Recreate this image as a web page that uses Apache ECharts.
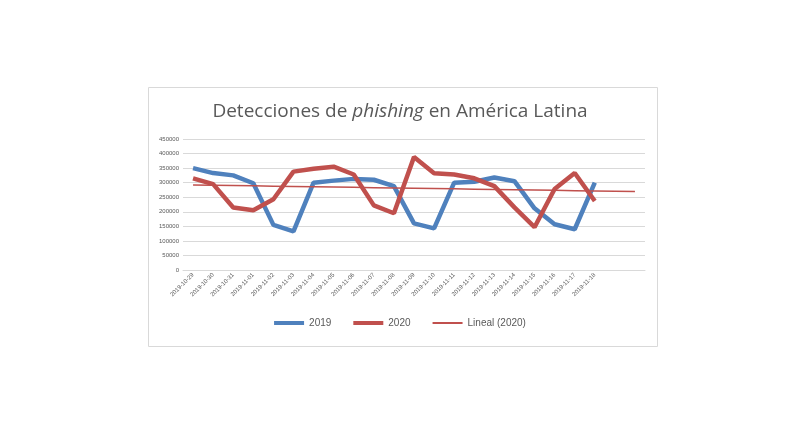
<!DOCTYPE html><html><head><meta charset="utf-8">
<script src="https://cdn.jsdelivr.net/npm/echarts@6/dist/echarts.min.js"></script>
<style>body{margin:0;background:#fff}#c{width:800px;height:445px}</style></head><body><div id="c"></div>
<script>
const categories=['2019-10-29','2019-10-30','2019-10-31','2019-11-01','2019-11-02','2019-11-03','2019-11-04','2019-11-05','2019-11-06','2019-11-07','2019-11-08','2019-11-09','2019-11-10','2019-11-11','2019-11-12','2019-11-13','2019-11-14','2019-11-15','2019-11-16','2019-11-17','2019-11-18','',''];
const s2019=[350000,333000,325000,298000,155000,133000,300000,307000,313000,310000,288000,160000,143000,300000,303000,318000,305000,212000,157000,140000,300000];
const s2020=[315000,295000,215000,205000,243000,338000,348000,355000,328000,222000,195000,388000,332000,328000,315000,288000,215000,147000,278000,333000,237000];
const n=s2020.length;let sx=0,sy=0,sxy=0,sxx=0;
s2020.forEach((v,i)=>{sx+=i;sy+=v;sxy+=i*v;sxx+=i*i;});
const b=(n*sxy-sx*sy)/(n*sxx-sx*sx),a=(sy-b*sx)/n;
const trend=categories.map((c,i)=>Math.round(a+b*i));
const ch=echarts.init(document.getElementById('c'));
ch.setOption({
 graphic:[{type:'rect',shape:{x:148.5,y:87.5,width:509,height:259},style:{fill:'none',stroke:'#d9d9d9',lineWidth:1}}],
 title:{left:'center',top:97,text:'{a|Detecciones de }{b|phishing}{a| en América Latina}',
  textStyle:{rich:{a:{fontSize:19,color:'#595959',fontWeight:'normal',fontFamily:'Open Sans'},b:{fontSize:19,color:'#595959',fontWeight:'normal',fontStyle:'italic',fontFamily:'Open Sans'}}}},
 legend:{bottom:112,itemGap:22,textStyle:{fontSize:10,color:'#595959'},
  data:[{name:'2019',icon:'path://M0,0H30V4H0Z'},{name:'2020',icon:'path://M0,0H30V4H0Z'},{name:'Lineal (2020)',icon:'path://M0,1H30V3H0Z'}],itemWidth:30,itemHeight:4},
 grid:{left:183,right:155,top:139,bottom:175,containLabel:false},
 xAxis:{type:'category',data:categories,axisLine:{lineStyle:{color:'#d9d9d9'}},axisTick:{show:false},
  axisLabel:{rotate:45,fontSize:6,color:'#595959',interval:0,margin:4}},
 yAxis:{type:'value',min:0,max:450000,interval:50000,axisLabel:{fontSize:6,color:'#595959',margin:4,formatter:v=>String(v)},
  splitLine:{lineStyle:{color:'#d9d9d9'}}},
 series:[
  {name:'2019',type:'line',data:s2019,showSymbol:false,lineStyle:{width:4.5,color:'#4f81bd'},itemStyle:{color:'#4f81bd'}},
  {name:'2020',type:'line',data:s2020,showSymbol:false,lineStyle:{width:4.5,color:'#c0504d'},itemStyle:{color:'#c0504d'}},
  {name:'Lineal (2020)',type:'line',data:trend,showSymbol:false,lineStyle:{width:1.5,color:'#c0504d'},itemStyle:{color:'#c0504d'}}
 ]});
</script></body></html>
